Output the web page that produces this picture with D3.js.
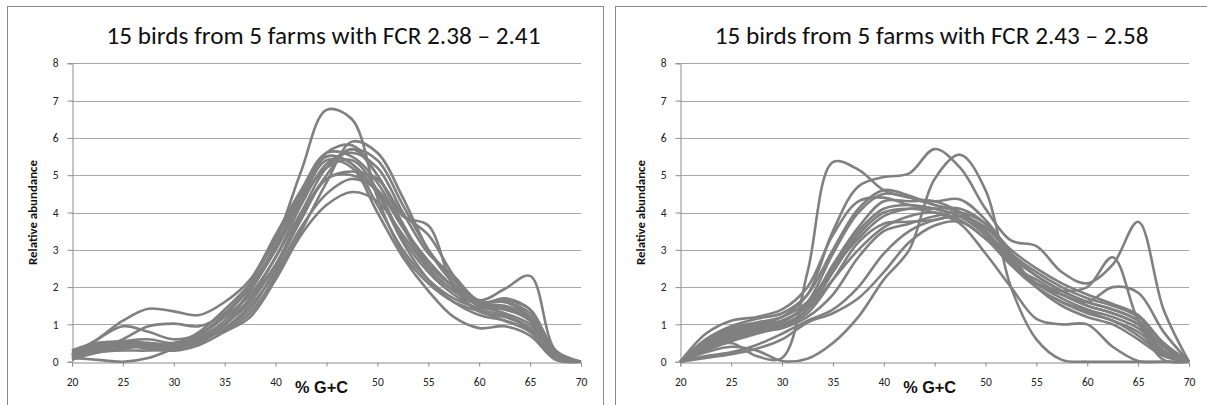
<!DOCTYPE html>
<html>
<head>
<meta charset="utf-8">
<script src="https://cdn.jsdelivr.net/npm/d3@7"></script>
<style>
  html, body { margin: 0; padding: 0; background: #fff; }
  svg { display: block; }
</style>
</head>
<body>
<div id="chart"></div>
<script>
'use strict';

/*** Data */
/** % G+C sample points (x categories) */
const gcValues = [20, 22.5, 25, 27.5, 30, 32.5, 35, 37.5, 40, 42.5, 45, 47.5, 50, 52.5, 55, 57.5, 60, 62.5, 65, 67.5, 70];

/** Tick labels (45 sits under the axis title in the original) */
const xTicks = [20, 25, 30, 35, 40, 45, 50, 55, 60, 65, 70];
const xHiddenLabel = 45;
const yTicks = [0, 1, 2, 3, 4, 5, 6, 7, 8];

/** Titles */
const titleLeft = "15 birds from 5 farms with FCR 2.38 \u2013 2.41";
const titleRight = "15 birds from 5 farms with FCR 2.43 \u2013 2.58";
const xTitle = "% G+C";
const yTitle = "Relative abundance";

/** Relative abundance per bird, FCR 2.38 - 2.41 */
const birdsLow = [
  [0.2, 0.35, 0.45, 0.5, 0.45, 0.65, 1.1, 1.9, 3.2, 5.1, 6.75, 6.5, 4.4, 2.9, 2.1, 1.6, 1.35, 1.1, 0.8, 0.1, 0],
  [0.15, 0.3, 0.4, 0.45, 0.5, 0.7, 1.2, 1.8, 2.8, 4.2, 5.3, 5.6, 5.2, 4.0, 2.9, 2.3, 1.65, 1.95, 2.3, 0.3, 0],
  [0.1, 0.3, 0.4, 0.5, 0.4, 0.6, 1.0, 1.7, 2.6, 3.9, 5.0, 5.7, 5.0, 3.9, 3.65, 2.0, 1.35, 1.2, 0.9, 0.1, 0],
  [0.3, 0.5, 0.55, 0.5, 0.35, 0.5, 1.0, 1.9, 3.0, 4.3, 5.4, 5.2, 4.0, 2.8, 1.9, 1.2, 0.9, 0.95, 0.7, 0.05, 0],
  [0.15, 0.6, 1.1, 1.42, 1.35, 1.25, 1.6, 2.2, 3.4, 4.6, 5.6, 5.5, 4.8, 3.6, 2.5, 1.9, 1.5, 1.3, 1.0, 0.15, 0],
  [0.1, 0.05, 0.0, 0.1, 0.35, 0.6, 0.85, 1.3, 2.3, 3.5, 4.8, 5.9, 5.6, 4.4, 3.0, 2.1, 1.6, 1.6, 1.2, 0.2, 0],
  [0.2, 0.6, 0.95, 0.8, 0.6, 0.75, 1.25, 2.0, 3.0, 4.3, 5.2, 5.4, 4.6, 3.3, 2.4, 1.8, 1.4, 1.25, 0.9, 0.1, 0],
  [0.1, 0.3, 0.6, 0.95, 1.02, 0.95, 1.3, 2.0, 3.1, 4.4, 5.6, 5.8, 5.0, 3.7, 2.6, 2.0, 1.55, 1.5, 1.2, 0.2, 0],
  [0.25, 0.4, 0.5, 0.45, 0.4, 0.55, 0.9, 1.5, 2.4, 3.6, 4.5, 4.9, 4.6, 3.6, 2.7, 2.0, 1.6, 1.6, 1.3, 0.25, 0],
  [0.05, 0.25, 0.35, 0.4, 0.3, 0.45, 0.8, 1.2, 2.2, 3.4, 4.2, 4.55, 4.3, 3.4, 2.5, 1.9, 1.55, 1.7, 1.4, 0.3, 0],
  [0.2, 0.45, 0.55, 0.6, 0.5, 0.7, 1.3, 2.0, 3.1, 4.5, 5.5, 5.3, 4.5, 3.2, 2.2, 1.6, 1.25, 1.1, 0.85, 0.1, 0],
  [0.3, 0.5, 0.45, 0.35, 0.3, 0.5, 1.0, 1.6, 2.6, 3.9, 4.9, 5.0, 4.6, 3.6, 2.7, 2.0, 1.5, 1.45, 1.1, 0.15, 0],
  [0.1, 0.25, 0.3, 0.3, 0.35, 0.6, 1.0, 1.7, 2.8, 4.0, 5.2, 5.7, 5.4, 4.2, 3.0, 2.2, 1.6, 1.65, 1.4, 0.2, 0],
  [0.2, 0.4, 0.45, 0.4, 0.45, 0.8, 1.4, 2.1, 3.3, 4.5, 5.5, 5.3, 4.2, 3.0, 2.2, 1.7, 1.45, 1.4, 1.1, 0.1, 0],
  [0.15, 0.35, 0.4, 0.4, 0.4, 0.6, 0.9, 1.4, 2.5, 3.8, 4.9, 5.1, 4.9, 3.95, 3.4, 2.3, 1.5, 1.4, 1.15, 0.2, 0]
];

/** Relative abundance per bird, FCR 2.43 - 2.58 */
const birdsHigh = [
  [0, 0.35, 0.5, 0.15, 0.1, 2.4, 5.35, 5.15, 4.6, 4.4, 4.2, 4.0, 3.5, 2.6, 2.0, 1.6, 1.35, 1.1, 0.8, 0.25, 0],
  [0, 0.5, 0.8, 1.0, 1.2, 1.8, 3.5, 4.7, 4.95, 5.05, 5.7, 5.2, 4.1, 3.25, 3.1, 2.4, 2.1, 2.6, 3.75, 1.4, 0],
  [0, 0.25, 0.4, 0.3, 0.02, 0.08, 0.5, 1.2, 2.2, 3.0, 4.9, 5.55, 4.6, 2.0, 0.6, 0.05, 0, 0, 0, 0, 0],
  [0, 0.45, 0.75, 0.95, 1.1, 1.5, 2.5, 3.5, 4.1, 4.2, 4.1, 3.9, 3.4, 2.6, 2.1, 1.9, 2.0, 2.8, 1.1, 0.05, 0],
  [0, 0.4, 0.7, 0.9, 1.0, 1.4, 2.2, 3.0, 3.6, 3.9, 4.0, 3.8, 3.3, 2.6, 2.1, 1.8, 1.6, 2.0, 1.85, 0.8, 0],
  [0, 0.3, 0.55, 0.75, 0.95, 1.4, 2.4, 3.4, 4.0, 4.1, 4.0, 3.7, 2.9, 2.0, 1.15, 1.0, 1.0, 0.4, 0.02, 0, 0],
  [0, 0.6, 0.95, 1.15, 1.3, 1.8, 3.0, 4.1, 4.6, 4.45, 4.2, 4.0, 3.5, 2.7, 2.1, 1.7, 1.4, 1.2, 0.9, 0.3, 0],
  [0, 0.75, 1.1, 1.2, 1.4, 2.0, 3.4, 4.3, 4.4, 4.2, 4.1, 3.9, 3.4, 2.6, 2.2, 1.8, 1.5, 1.3, 1.0, 0.4, 0],
  [0, 0.5, 0.85, 1.0, 1.1, 1.5, 2.6, 3.6, 4.3, 4.3, 4.3, 4.0, 3.5, 2.8, 2.3, 1.9, 1.6, 1.4, 1.1, 0.4, 0],
  [0, 0.4, 0.7, 0.85, 0.95, 1.3, 2.2, 3.2, 3.7, 3.75, 3.8, 3.9, 3.6, 2.9, 2.4, 2.0, 1.7, 1.5, 1.2, 0.5, 0],
  [0, 0.3, 0.6, 0.8, 0.9, 1.2, 1.8, 2.8, 3.5, 3.7, 3.9, 4.0, 3.7, 3.0, 2.5, 2.1, 1.8, 1.55, 1.25, 0.5, 0],
  [0, 0.15, 0.25, 0.45, 0.75, 1.1, 1.4, 2.0, 2.9, 3.5, 3.8, 3.9, 3.6, 2.9, 2.3, 1.9, 1.6, 1.4, 1.1, 0.4, 0],
  [0, 0.1, 0.2, 0.35, 0.6, 1.05, 1.3, 1.7, 2.4, 3.2, 3.65, 3.75, 3.3, 2.7, 2.1, 1.8, 1.5, 1.3, 1.0, 0.3, 0],
  [0, 0.35, 0.65, 0.9, 1.05, 1.6, 2.9, 4.0, 4.5, 4.4, 4.3, 4.35, 3.8, 2.9, 2.0, 1.6, 1.3, 1.1, 0.7, 0.2, 0],
  [0, 0.55, 0.9, 1.05, 1.2, 1.6, 2.5, 3.3, 3.9, 4.1, 4.1, 4.1, 3.7, 2.8, 2.0, 1.5, 1.2, 1.0, 0.6, 0.15, 0]
];

/*** Layout */
const w = 1207;
const h = 405;
const lineColor = "#808080";
const gridColor = "#a8a8a8";
const axisColor = "#8c8c8c";
const calibri = "Carlito, 'Open Sans', sans-serif";

const svg = d3.select("#chart")
    .append("svg")
    .attr("width", w)
    .attr("height", h);

/** Shrink/grow a text's font so it spans the width seen in the original */
const fitWidth = (sel, target) => {
    const size = parseFloat(sel.style("font-size"));
    const len = sel.node().getComputedTextLength();
    if (len > 0) sel.style("font-size", (size * target / len).toFixed(2) + "px");
};

/** One chart panel */
const drawPanel = (opts) => {
    const g = svg.append("g");

    // outer chart border
    g.append("rect")
        .attr("x", opts.box[0] + 0.5)
        .attr("y", opts.box[1] + 0.5)
        .attr("width", opts.box[2] - opts.box[0])
        .attr("height", opts.box[3] - opts.box[1])
        .attr("fill", "#fff")
        .attr("stroke", "#8a8a8a")
        .attr("stroke-width", 1);

    const xScale = d3.scaleLinear()
        .domain([20, 70])
        .range([opts.left, opts.right]);

    const yScale = d3.scaleLinear()
        .domain([0, 8])
        .range([opts.bottom, opts.top]);

    // gridlines
    g.append("g")
        .selectAll("line")
        .data(yTicks.slice(1))
        .join("line")
        .attr("x1", opts.left)
        .attr("x2", opts.right)
        .attr("y1", d => Math.round(yScale(d)) + 0.5)
        .attr("y2", d => Math.round(yScale(d)) + 0.5)
        .attr("stroke", gridColor)
        .attr("stroke-width", 1);

    // y axis
    const yAxis = d3.axisLeft(yScale)
        .tickValues(yTicks)
        .tickSize(5)
        .tickPadding(9)
        .tickFormat(d3.format("d"));

    const gy = g.append("g")
        .attr("transform", "translate(" + (Math.round(opts.left) + 0.5) + ",0)")
        .call(yAxis);

    // x axis
    const xAxis = d3.axisBottom(xScale)
        .tickValues(xTicks)
        .tickSize(4)
        .tickPadding(11)
        .tickFormat(d => d === xHiddenLabel ? "" : d3.format("d")(d));

    const gx = g.append("g")
        .attr("transform", "translate(0," + (Math.round(opts.bottom) + 0.5) + ")")
        .call(xAxis);

    [gx, gy].forEach(ax => {
        ax.select(".domain").attr("stroke", axisColor);
        ax.selectAll(".tick line").attr("stroke", axisColor);
        ax.selectAll(".tick text")
            .attr("fill", "#222")
            .style("font-family", calibri)
            .style("font-size", "11.5px");
    });

    // curves
    const line = d3.line()
        .x((d, i) => xScale(gcValues[i]))
        .y(d => yScale(d))
        .curve(d3.curveCatmullRom.alpha(0.5));

    g.append("g")
        .selectAll("path")
        .data(opts.series)
        .join("path")
        .attr("d", line)
        .attr("fill", "none")
        .attr("stroke", lineColor)
        .attr("stroke-width", 2.6)
        .attr("stroke-linejoin", "round");

    // title
    const tt = g.append("text")
        .attr("x", (opts.left + opts.right) / 2 - 3)
        .attr("y", 44)
        .attr("text-anchor", "middle")
        .style("font-family", calibri)
        .style("font-size", "20px")
        .attr("fill", "#111")
        .text(opts.title);
    fitWidth(tt, 434);

    // x axis title
    const xt = g.append("text")
        .attr("x", (opts.left + opts.right) / 2 - 5)
        .attr("y", 393)
        .attr("text-anchor", "middle")
        .style("font-family", "'Liberation Sans', Arial, sans-serif")
        .style("font-weight", "bold")
        .style("font-size", "13.5px")
        .attr("fill", "#111")
        .text(xTitle);
    fitWidth(xt, 53);

    // y axis title
    const yt = g.append("text")
        .attr("transform", "translate(" + (opts.left - 35) + "," + ((opts.top + opts.bottom) / 2) + ") rotate(-90)")
        .attr("text-anchor", "middle")
        .style("font-family", calibri)
        .style("font-weight", "bold")
        .style("font-size", "10.5px")
        .attr("fill", "#111")
        .text(yTitle);
    fitWidth(yt, 105);
};

drawPanel({
    box: [7, 6, 603, 410],
    left: 72, right: 581, top: 63.3, bottom: 361.7,
    title: titleLeft,
    series: birdsLow
});

drawPanel({
    box: [615, 6, 1220, 410],
    left: 680.3, right: 1189, top: 63.3, bottom: 361.7,
    title: titleRight,
    series: birdsHigh
});
</script>
</body>
</html>
